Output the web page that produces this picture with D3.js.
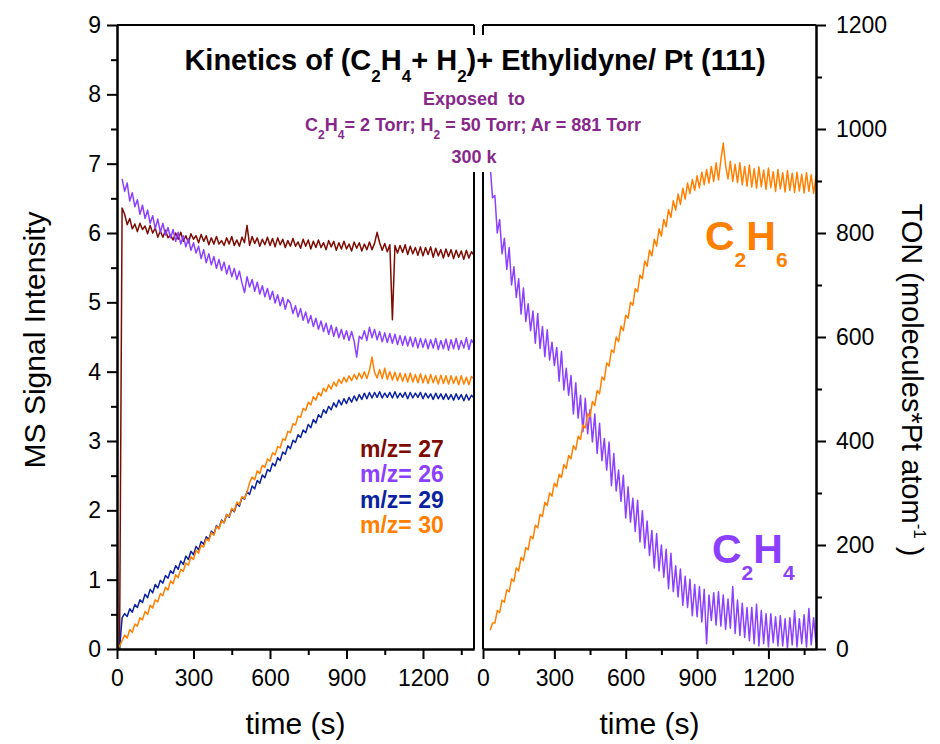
<!DOCTYPE html>
<html><head><meta charset="utf-8">
<script src="https://cdn.jsdelivr.net/npm/d3@7"></script>
<style>
body{margin:0;background:#fff;}
svg{display:block;font-family:"Liberation Sans",Arial,sans-serif;}
</style>
</head><body>
<svg id="chart" width="940" height="744"></svg>
<script>
// ---------- DATA ----------
const timeLeft = [
  0,10,20,30,40,50,60,70,80,90,
  100,110,120,130,140,150,160,170,180,190,
  200,210,220,230,240,250,260,270,280,290,
  300,310,320,330,340,350,360,370,380,390,
  400,410,420,430,440,450,460,470,480,490,
  500,510,520,530,540,550,560,570,580,590,
  600,610,620,630,640,650,660,670,680,690,
  700,710,720,730,740,750,760,770,780,790,
  800,810,820,830,840,850,860,870,880,890,
  900,910,920,930,940,950,960,970,980,990,
  1000,1010,1020,1030,1040,1050,1060,1070,1080,1090,
  1100,1110,1120,1130,1140,1150,1160,1170,1180,1190,
  1200,1210,1220,1230,1240,1250,1260,1270,1280,1290,
  1300,1310,1320,1330,1340,1350,1360,1370,1380,1390,
  1400];
const ms27 = [
  0,0,6.36,6.27,6.12,6.21,6.06,6.13,6.02,6.14,
  6.05,6.10,5.99,6.11,6.00,6.07,5.94,6.03,5.94,6.04,
  5.93,5.97,5.90,6.00,5.91,6.01,5.88,5.96,5.86,5.99,
  5.91,5.96,5.86,5.98,5.88,5.96,5.83,5.93,5.84,5.95,
  5.84,5.89,5.82,5.93,5.84,5.95,5.82,5.90,5.81,5.94,
  5.86,6.11,5.82,5.95,5.85,5.93,5.81,5.91,5.83,5.94,
  5.82,5.92,5.80,5.93,5.83,5.91,5.79,5.89,5.81,5.92,
  5.81,5.87,5.78,5.91,5.81,5.90,5.77,5.88,5.79,5.90,
  5.79,5.86,5.76,5.89,5.80,5.88,5.75,5.86,5.77,5.88,
  5.77,5.84,5.74,5.87,5.78,5.86,5.74,5.84,5.76,5.87,
  5.76,5.85,6.01,5.86,5.75,5.85,5.73,5.83,4.75,5.82,
  5.71,5.82,5.72,5.83,5.69,5.81,5.70,5.79,5.68,5.80,
  5.67,5.79,5.69,5.80,5.65,5.78,5.67,5.76,5.64,5.77,
  5.66,5.76,5.63,5.75,5.65,5.74,5.62,5.75,5.64,5.73,
  5.68];
const ms26 = [
  null,null,6.78,6.60,6.72,6.46,6.58,6.38,6.48,6.27,
  6.40,6.21,6.33,6.14,6.25,6.06,6.20,6.01,6.14,5.97,
  6.08,5.93,6.05,5.88,6.01,5.84,5.96,5.80,5.92,5.75,
  5.86,5.71,5.81,5.63,5.76,5.57,5.70,5.54,5.66,5.49,
  5.62,5.46,5.58,5.41,5.53,5.37,5.49,5.33,5.45,5.28,
  5.14,5.37,5.22,5.33,5.16,5.29,5.12,5.24,5.08,5.20,
  5.04,5.16,4.99,5.11,4.95,5.07,4.90,5.04,4.99,4.84,
  4.95,4.79,4.91,4.74,4.86,4.70,4.81,4.65,4.77,4.61,
  4.73,4.58,4.70,4.54,4.67,4.51,4.64,4.49,4.61,4.47,
  4.59,4.45,4.58,4.44,4.21,4.51,4.47,4.59,4.45,4.64,
  4.49,4.61,4.46,4.58,4.43,4.56,4.42,4.55,4.41,4.54,
  4.39,4.52,4.38,4.51,4.37,4.50,4.36,4.49,4.34,4.48,
  4.35,4.47,4.33,4.46,4.34,4.48,4.32,4.45,4.33,4.47,
  4.31,4.46,4.33,4.48,4.32,4.45,4.34,4.49,4.32,4.46,
  4.40];
const ms29 = [
  0,0,0.45,0.51,0.47,0.58,0.53,0.64,0.60,0.71,
  0.67,0.79,0.74,0.86,0.81,0.93,0.88,0.99,0.95,1.06,
  1.02,1.13,1.09,1.20,1.15,1.27,1.22,1.34,1.29,1.41,
  1.36,1.48,1.43,1.55,1.51,1.62,1.58,1.70,1.66,1.78,
  1.74,1.86,1.82,1.94,1.90,2.02,1.98,2.10,2.06,2.19,
  2.16,2.27,2.23,2.35,2.31,2.43,2.39,2.51,2.47,2.59,
  2.56,2.68,2.64,2.76,2.72,2.84,2.81,2.93,2.89,3.01,
  2.98,3.09,3.05,3.16,3.12,3.24,3.19,3.31,3.26,3.38,
  3.34,3.45,3.40,3.50,3.45,3.55,3.49,3.59,3.52,3.61,
  3.54,3.63,3.56,3.65,3.58,3.67,3.60,3.69,3.61,3.70,
  3.62,3.70,3.63,3.71,3.62,3.69,3.63,3.70,3.62,3.71,
  3.62,3.69,3.63,3.70,3.61,3.70,3.62,3.69,3.63,3.70,
  3.61,3.69,3.62,3.68,3.60,3.69,3.61,3.68,3.60,3.68,
  3.60,3.67,3.59,3.68,3.60,3.67,3.58,3.67,3.59,3.66,
  3.62];
const ms30 = [
  0,0.04,0.12,0.20,0.16,0.28,0.24,0.36,0.33,0.45,
  0.42,0.54,0.50,0.63,0.59,0.71,0.68,0.80,0.77,0.89,
  0.85,0.98,0.94,1.07,1.03,1.15,1.12,1.24,1.21,1.33,
  1.29,1.42,1.38,1.50,1.47,1.59,1.56,1.68,1.64,1.77,
  1.73,1.85,1.82,1.94,1.91,2.03,1.99,2.12,2.08,2.20,
  2.17,2.26,2.40,2.48,2.44,2.57,2.53,2.65,2.62,2.74,
  2.71,2.83,2.80,2.92,2.90,3.03,3.01,3.14,3.12,3.25,
  3.23,3.36,3.34,3.47,3.44,3.56,3.52,3.64,3.59,3.70,
  3.65,3.76,3.71,3.81,3.75,3.85,3.79,3.89,3.83,3.92,
  3.85,3.94,3.87,3.96,3.89,3.98,3.90,4.00,3.90,4.02,
  4.21,3.99,3.91,4.03,3.90,4.05,3.89,4.00,3.88,3.99,
  3.87,3.98,3.86,3.97,3.85,3.98,3.85,3.96,3.84,3.97,
  3.84,3.95,3.83,3.96,3.84,3.94,3.82,3.95,3.83,3.94,
  3.82,3.94,3.83,3.93,3.81,3.94,3.82,3.92,3.81,3.93,
  3.90];

const timeRight = [
  30,40,50,60,70,80,90,
  100,110,120,130,140,150,160,170,180,190,
  200,210,220,230,240,250,260,270,280,290,
  300,310,320,330,340,350,360,370,380,390,
  400,410,420,430,440,450,460,470,480,490,
  500,510,520,530,540,550,560,570,580,590,
  600,610,620,630,640,650,660,670,680,690,
  700,710,720,730,740,750,760,770,780,790,
  800,810,820,830,840,850,860,870,880,890,
  900,910,920,930,940,950,960,970,980,990,
  1000,1010,1020,1030,1040,1050,1060,1070,1080,1090,
  1100,1110,1120,1130,1140,1150,1160,1170,1180,1190,
  1200,1210,1220,1230,1240,1250,1260,1270,1280,1290,
  1300,1310,1320,1330,1340,1350,1360,1370,1380,1390,
  1400];
const tonC2H6 = [
  36,50,50,74,70,94,90,
  114,110,135,130,156,150,176,170,195,191,
  217,212,238,233,259,255,282,276,300,294,
  319,312,336,330,355,347,372,366,391,383,
  409,403,431,425,453,446,476,468,497,491,
  523,517,550,544,575,570,600,591,621,612,
  642,636,667,661,693,687,719,712,746,736,
  767,756,788,775,808,794,826,812,845,830,
  862,844,875,855,886,865,896,876,903,882,
  910,887,917,893,922,896,928,899,935,902,
  940,973,930,904,938,899,932,897,935,893,
  928,890,931,888,924,886,927,889,921,884,
  925,887,918,880,922,885,916,879,920,882,
  915,878,917,881,913,877,916,880,912,876,
  910];
const tonC2H4 = [
  930,868,872,800,826,760,790,
  730,772,700,735,676,712,644,694,630,664,
  612,650,588,645,578,620,562,614,556,590,
  545,580,515,572,498,540,488,526,452,512,
  444,488,418,482,414,460,398,452,376,434,
  362,405,344,398,314,376,304,344,284,334,
  252,312,244,290,226,286,206,266,194,246,
  180,228,156,222,150,200,138,192,116,184,
  110,160,100,154,84,140,80,134,64,124,
  62,120,52,115,10,104,55,108,46,110,
  44,104,38,96,40,120,30,94,26,88,
  22,80,16,80,10,86,6,74,10,68,
  4,68,12,62,6,64,6,58,2,60,
  8,74,4,58,10,66,4,78,8,60,
  12];

const legendLabels = ["m/z= 27", "m/z= 26", "m/z= 29", "m/z= 30"];
const leftYMajor = [0,1,2,3,4,5,6,7,8,9];
const leftYMinor = [0.5,1.5,2.5,3.5,4.5,5.5,6.5,7.5,8.5];
const timeMajor = [0,300,600,900,1200];
const timeMinor = [150,450,750,1050,1350];
const rightYMajor = [0,200,400,600,800,1000,1200];
const rightYMinor = [100,300,500,700,900,1100];

// ---------- STYLE ----------
const C27 = "#7D0B02", C26 = "#8C40FF", C29 = "#0B22A0", C30 = "#FF8000";
const SUBC = "#86288A";
const FONT = "'Liberation Sans', Arial, sans-serif";

const svg = d3.select("#chart");
const xL = d3.scaleLinear().domain([0,1400]).range([117,474]);
const yL = d3.scaleLinear().domain([0,9]).range([649,25]);
const xR = d3.scaleLinear().domain([0,1400]).range([483,816]);
const yR = d3.scaleLinear().domain([0,1200]).range([649,25]);

const defs = svg.append("defs");
defs.append("clipPath").attr("id","clipL").append("rect")
  .attr("x",xL(0)).attr("y",yL(9)).attr("width",xL(1400)-xL(0)).attr("height",yL(0)-yL(9));
defs.append("clipPath").attr("id","clipR").append("rect")
  .attr("x",xR(0)).attr("y",yR(1200)).attr("width",xR(1400)-xR(0)).attr("height",yR(0)-yR(1200));

// ---------- DATA LINES ----------
function drawSeries(clip, xs, ys, times, vals, color){
  const pts = times.map((t,i)=>[t, vals[i]]);
  const line = d3.line().defined(d=>d[1]!==null).x(d=>xs(d[0])).y(d=>ys(d[1]));
  svg.append("path").attr("clip-path","url(#"+clip+")")
    .attr("d", line(pts)).attr("fill","none").attr("stroke",color)
    .attr("stroke-width",1.5).attr("stroke-linejoin","round");
}
drawSeries("clipL", xL, yL, timeLeft, ms27, C27);
drawSeries("clipL", xL, yL, timeLeft, ms26, C26);
drawSeries("clipL", xL, yL, timeLeft, ms29, C29);
drawSeries("clipL", xL, yL, timeLeft, ms30, C30);
drawSeries("clipR", xR, yR, timeRight, tonC2H4, C26);
drawSeries("clipR", xR, yR, timeRight, tonC2H6, C30);

// ---------- AXES ----------
function styleAxis(g, fs){
  g.attr("font-family", FONT).attr("font-size", fs);
  g.selectAll(".domain").attr("stroke","#000").attr("stroke-width",2);
  g.selectAll(".tick line").attr("stroke","#000").attr("stroke-width",2);
  g.selectAll(".tick text").attr("fill","#000");
}
function axisPair(gen, scale, major, minor, transform, pad){
  const gMin = svg.append("g").attr("transform",transform)
    .call(gen(scale).tickValues(minor).tickSize(6).tickSizeOuter(0).tickFormat(""));
  styleAxis(gMin, 23);
  const g = svg.append("g").attr("transform",transform)
    .call(gen(scale).tickValues(major).tickSize(10).tickSizeOuter(0).tickPadding(pad).tickFormat(d3.format("d")));
  styleAxis(g, 23);
  return g;
}
axisPair(d3.axisLeft, yL, leftYMajor, leftYMinor, `translate(${xL(0)},0)`, 6);
axisPair(d3.axisBottom, xL, timeMajor, timeMinor, `translate(0,${yL(0)})`, 11);
axisPair(d3.axisBottom, xR, timeMajor, timeMinor, `translate(0,${yR(0)})`, 11);
axisPair(d3.axisRight, yR, rightYMajor, rightYMinor, `translate(${xR(1400)},0)`, 10);

// frame lines
const frame = [
  [xL(0),yL(9),xL(1400),yL(9)], [xL(1400),yL(9),xL(1400),yL(0)],
  [xR(0),yR(1200),xR(1400),yR(1200)], [xR(0),yR(1200),xR(0),yR(0)]
];
svg.selectAll("line.frame").data(frame).join("line").attr("class","frame")
  .attr("x1",d=>d[0]).attr("y1",d=>d[1]).attr("x2",d=>d[2]).attr("y2",d=>d[3])
  .attr("stroke","#000").attr("stroke-width",2);

// white background of the annotation block
svg.append("rect").attr("x",300).attr("y",35).attr("width",350).attr("height",137).attr("fill","#fff");

// ---------- TEXT ----------
function richText(x, y, parts, opts){
  const t = svg.append("text").attr("x",x).attr("y",y)
    .attr("text-anchor", opts.anchor || "middle")
    .attr("font-family", FONT).attr("font-size", opts.size)
    .attr("font-weight", opts.weight || "normal").attr("fill", opts.color || "#000")
    .style("white-space","pre");
  if (opts.transform) t.attr("transform", opts.transform);
  let shift = 0;
  parts.forEach(p=>{
    const s = p.shift || 0;
    const ts = t.append("tspan").text(p.text).attr("dy", s - shift);
    if (p.size) ts.attr("font-size", p.size);
    shift = s;
  });
  return t;
}
// title
richText(475, 70, [
  {text:"Kinetics of (C"},{text:"2",size:17,shift:12},{text:"H"},{text:"4",size:17,shift:12},
  {text:"+ H"},{text:"2",size:17,shift:12},{text:")+ Ethylidyne/ Pt (111)"}
], {size:29, weight:"bold"});
richText(474, 105, [{text:"Exposed  to"}], {size:18, weight:"bold", color:SUBC});
richText(473, 131, [
  {text:"C"},{text:"2",size:12,shift:8},{text:"H"},{text:"4",size:12,shift:8},
  {text:"= 2 Torr; H"},{text:"2",size:12,shift:8},{text:" = 50 Torr; Ar = 881 Torr"}
], {size:18, weight:"bold", color:SUBC});
richText(474, 163, [{text:"300 k"}], {size:18, weight:"bold", color:SUBC});

// legend
const legColors = [C27, C26, C29, C30];
const legY = [457, 482, 507.5, 533];
legendLabels.forEach((l,i)=>{
  svg.append("text").attr("x",360).attr("y",legY[i]).text(l)
    .attr("font-family",FONT).attr("font-size",23).attr("font-weight","bold").attr("fill",legColors[i]);
});

// species labels
richText(705, 250, [{text:"C"},{text:"2",size:21,shift:17},{text:"H"},{text:"6",size:21,shift:17}],
  {size:41, weight:"bold", color:C30, anchor:"start"});
richText(712, 563, [{text:"C"},{text:"2",size:21,shift:17},{text:"H"},{text:"4",size:21,shift:17}],
  {size:41, weight:"bold", color:C26, anchor:"start"});

// axis titles
richText(0, 0, [{text:"MS Signal Intensity"}], {size:30, transform:"translate(45,340) rotate(-90)"});
richText(0, 0, [{text:"TON (molecules*Pt atom"},{text:"-1",size:17,shift:-12},{text:" )"}],
  {size:29, transform:"translate(902,380) rotate(90)"});
richText((xL(0)+xL(1400))/2, 734, [{text:"time (s)"}], {size:30});
richText((xR(0)+xR(1400))/2, 734, [{text:"time (s)"}], {size:30});
</script>
</body></html>
